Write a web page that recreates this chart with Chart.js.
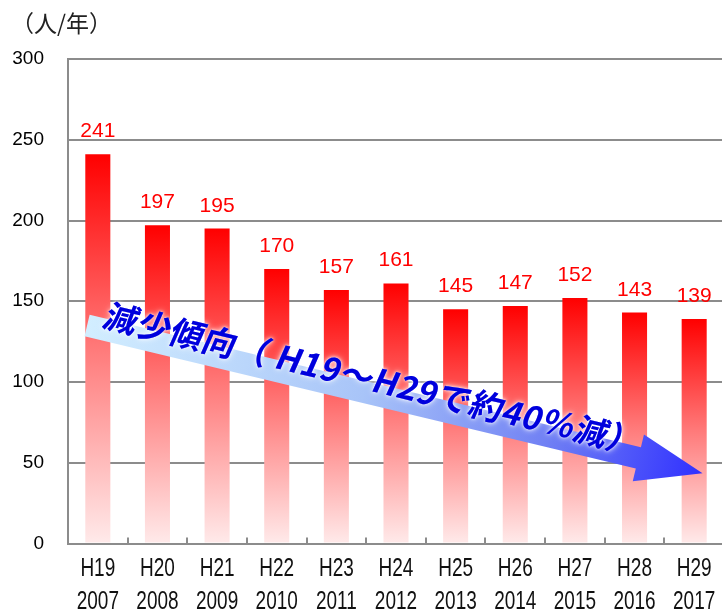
<!DOCTYPE html>
<html>
<head>
<meta charset="utf-8">
<script src="https://cdn.jsdelivr.net/npm/chart.js@4/dist/chart.umd.min.js"></script>
<style>
  html, body { margin: 0; padding: 0; background: #fff; overflow: hidden; }
  #wrap { width: 730px; height: 613px; }
</style>
</head>
<body>
<div id="wrap"><canvas id="c" width="730" height="613"></canvas></div>
<script>
// ---- data ----
const eraLabels = ['H19','H20','H21','H22','H23','H24','H25','H26','H27','H28','H29'];
const yearLabels = ['2007','2008','2009','2010','2011','2012','2013','2014','2015','2016','2017'];
const deaths = [241,197,195,170,157,161,145,147,152,143,139];
const yMin = 0, yMax = 300, yStep = 50;
const unitLabel = '（人/年）';
const arrowText = '減少傾向（ H19～H29で約40％減）';
// arrow annotation anchors in data space (category index, value)
const arrowStart = [-0.18, 135];
const arrowEnd = [10.14, 43.5];

const labels = eraLabels.map((e, i) => [e, yearLabels[i]]);

function barGradient(ctx) {
  const chart = ctx.chart;
  const ys = chart.scales.y;
  if (!ys || !chart.chartArea) return '#ff0000';
  const v = ctx.raw;
  const top = ys.getPixelForValue(v);
  const base = ys.getPixelForValue(0);
  const g = chart.ctx.createLinearGradient(0, top, 0, base);
  g.addColorStop(0, '#ff0000');
  g.addColorStop(0.5, '#ff7a7a');
  g.addColorStop(1, '#ffeaea');
  return g;
}

const decorPlugin = {
  id: 'decor',
  afterDatasetsDraw(chart) {
    const { ctx, scales: { x, y }, chartArea } = chart;
    // inward category ticks on x axis
    ctx.save();
    ctx.strokeStyle = '#8c8c8c';
    ctx.lineWidth = 2;
    for (let i = 1; i < eraLabels.length; i++) {
      const px = Math.round(x.getPixelForValue(i - 0.5));
      ctx.beginPath();
      ctx.moveTo(px, chartArea.bottom);
      ctx.lineTo(px, chartArea.bottom - 6);
      ctx.stroke();
    }
    ctx.restore();

    // condensed two-line category labels
    ctx.save();
    ctx.font = '25px "Liberation Sans", Arial, sans-serif';
    ctx.fillStyle = '#111';
    ctx.textAlign = 'center';
    ctx.textBaseline = 'middle';
    labels.forEach((lines, i) => {
      const px = x.getPixelForValue(i);
      lines.forEach((t, j) => {
        ctx.save();
        ctx.translate(px, chartArea.bottom + 26 + j * 33);
        ctx.scale(0.76, 1);
        ctx.fillText(t, 0, 0);
        ctx.restore();
      });
    });
    ctx.restore();

    // value labels
    const meta = chart.getDatasetMeta(0);
    ctx.save();
    ctx.font = '21px "Liberation Sans", Arial, sans-serif';
    ctx.fillStyle = '#ff0000';
    ctx.textAlign = 'center';
    ctx.textBaseline = 'alphabetic';
    meta.data.forEach((bar, i) => {
      ctx.fillText(String(deaths[i]), bar.x, bar.y - 17);
    });
    ctx.restore();

    // unit label
    ctx.save();
    ctx.font = '23px "Noto Sans CJK JP", sans-serif';
    ctx.fillStyle = '#222';
    ctx.textAlign = 'left';
    ctx.textBaseline = 'middle';
    ctx.fillText(unitLabel, 11, 23);
    ctx.restore();

    // trend arrow
    const x0 = x.getPixelForValue(arrowStart[0]), y0 = y.getPixelForValue(arrowStart[1]);
    const x1 = x.getPixelForValue(arrowEnd[0]), y1 = y.getPixelForValue(arrowEnd[1]);
    const ang = Math.atan2(y1 - y0, x1 - x0);
    const L = Math.hypot(x1 - x0, y1 - y0);
    const sw = 11, hw = 24, hl = 66;
    ctx.save();
    ctx.translate(x0, y0);
    ctx.rotate(ang);
    const g = ctx.createLinearGradient(0, 0, L, 0);
    g.addColorStop(0, '#d2eeff');
    g.addColorStop(0.45, '#a8c4f8');
    g.addColorStop(0.75, '#7080f4');
    g.addColorStop(1, '#3030ff');
    ctx.fillStyle = g;
    ctx.beginPath();
    ctx.moveTo(0, -sw);
    ctx.lineTo(L - hl, -sw);
    ctx.lineTo(L - hl, -hw);
    ctx.lineTo(L, 0);
    ctx.lineTo(L - hl, hw);
    ctx.lineTo(L - hl, sw);
    ctx.lineTo(0, sw);
    ctx.closePath();
    ctx.fill();

    ctx.font = 'bold 33px "Noto Sans CJK JP", sans-serif';
    ctx.textAlign = 'left';
    ctx.textBaseline = 'middle';
    const w = ctx.measureText(arrowText).width;
    const target = 550;
    const chars = [...arrowText];
    const extra = (target - w) / (chars.length - 1);
    const drawText = () => {
      let cx = 16;
      for (const ch of chars) {
        ctx.save();
        ctx.translate(cx, -15);
        ctx.transform(1, 0, -0.18, 1, 0, 0);
        ctx.fillText(ch, 0, 0);
        ctx.restore();
        cx += ctx.measureText(ch).width + extra;
      }
    };
    ctx.shadowColor = 'rgba(255,255,255,1)';
    ctx.fillStyle = '#0000dd';
    ctx.shadowBlur = 6;
    drawText();
    ctx.shadowBlur = 3;
    drawText();
    ctx.restore();
  }
};

new Chart(document.getElementById('c'), {
  type: 'bar',
  data: {
    labels: labels,
    datasets: [{
      data: deaths,
      backgroundColor: barGradient,
      borderWidth: 0,
      barPercentage: 0.42,
      categoryPercentage: 1.0
    }]
  },
  options: {
    responsive: false,
    devicePixelRatio: 1,
    animation: false,
    layout: { padding: { top: 59, right: 6, left: 0, bottom: 0 } },
    plugins: { legend: { display: false }, tooltip: { enabled: false } },
    scales: {
      x: {
        grid: { display: false, drawTicks: false },
        border: { display: true, color: '#8c8c8c', width: 2 },
        ticks: { display: false },
        afterFit(scale) { scale.height = 69.5; }
      },
      y: {
        min: yMin, max: yMax,
        grid: { color: '#8c8c8c', lineWidth: 2, drawTicks: false },
        border: { display: true, color: '#8c8c8c', width: 2 },
        ticks: {
          stepSize: yStep,
          color: '#000',
          font: { family: '"Liberation Sans", Arial, sans-serif', size: 19 },
          padding: 24
        },
        afterFit(scale) { scale.width = 68; }
      }
    }
  },
  plugins: [decorPlugin]
});
</script>
</body>
</html>
